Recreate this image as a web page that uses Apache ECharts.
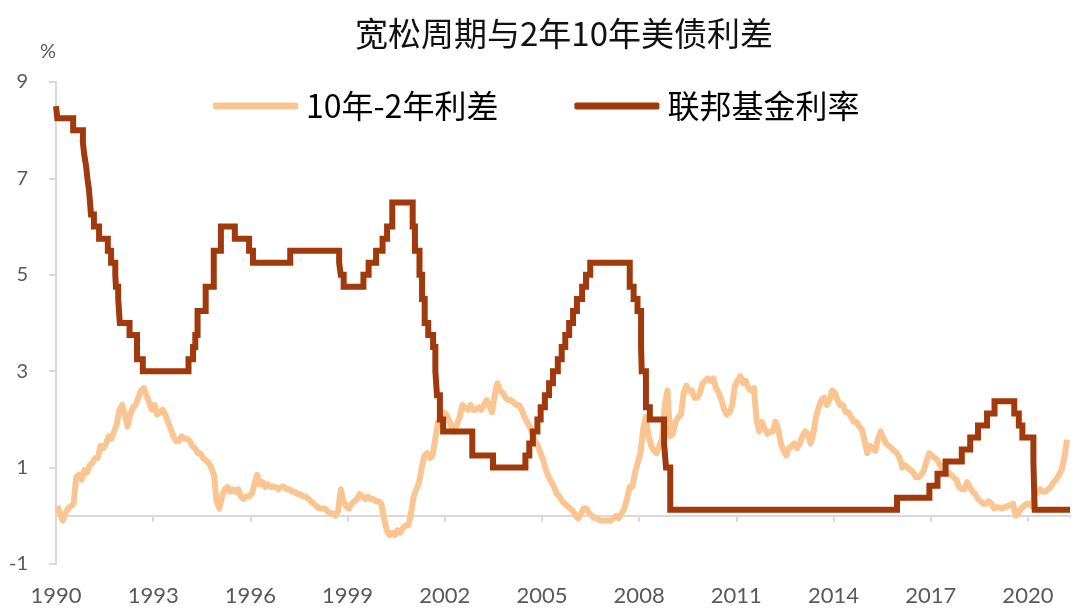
<!DOCTYPE html>
<html><head><meta charset="utf-8">
<script src="https://cdn.jsdelivr.net/npm/echarts@6/dist/echarts.min.js"></script>
<style>html,body{margin:0;padding:0;background:#fff}#c{width:1080px;height:614px}</style>
</head><body><div id="c"></div>
<script>
const chartTitle = '宽松周期与2年10年美债利差';
const seriesNames = ['10年-2年利差', '联邦基金利率'];
const yearTicks = [1990, 1993, 1996, 1999, 2002, 2005, 2008, 2011, 2014, 2017, 2020];

// 10Y-2Y spread, monthly from Jan 1990
const spreadStartYear = 1990;
const spreadMonthly = [
  0.2, 0.05, -0.1, 0.05, 0.15, 0.2, 0.25, 0.8, 0.85, 0.75, 0.95, 0.9,
  1.05, 1.1, 1.2, 1.2, 1.45, 1.4, 1.5, 1.65, 1.6, 1.75, 1.9, 2.2,
  2.3, 2.1, 1.85, 2.1, 2.25, 2.3, 2.45, 2.6, 2.65, 2.5, 2.35, 2.2,
  2.3, 2.1, 2.15, 2.2, 2.1, 1.95, 1.8, 1.65, 1.55, 1.55, 1.65, 1.6,
  1.6, 1.55, 1.45, 1.4, 1.3, 1.3, 1.2, 1.15, 1.1, 1.0, 0.85, 0.3,
  0.15, 0.4, 0.55, 0.6, 0.5, 0.55, 0.5, 0.55, 0.4, 0.35, 0.4, 0.4,
  0.45, 0.65, 0.85, 0.65, 0.7, 0.6, 0.65, 0.6, 0.6, 0.6, 0.55, 0.6,
  0.6, 0.55, 0.55, 0.5, 0.5, 0.45, 0.45, 0.4, 0.4, 0.35, 0.3, 0.25,
  0.2, 0.15, 0.15, 0.15, 0.1, 0.05, 0.05, 0.0, 0.1, 0.55, 0.3, 0.2,
  0.15, 0.25, 0.3, 0.35, 0.45, 0.4, 0.35, 0.4, 0.35, 0.35, 0.3, 0.3,
  0.25, -0.05, -0.3, -0.4, -0.35, -0.4, -0.3, -0.35, -0.25, -0.2, -0.2, 0.05,
  0.4, 0.55, 0.7, 1.0, 1.25, 1.3, 1.2, 1.25, 1.6, 1.95, 1.9, 2.15,
  2.1, 2.0, 1.85, 1.75, 1.9, 2.05, 2.3, 2.25, 2.2, 2.3, 2.2, 2.2,
  2.25, 2.2, 2.3, 2.4, 2.3, 2.15, 2.5, 2.75, 2.6, 2.55, 2.45, 2.4,
  2.4, 2.35, 2.3, 2.3, 2.2, 2.05, 1.95, 1.85, 1.7, 1.55, 1.45, 1.3,
  1.15, 0.95, 0.8, 0.7, 0.6, 0.45, 0.4, 0.3, 0.25, 0.2, 0.15, 0.1,
  0.0, -0.05, 0.05, 0.15, 0.15, 0.05, 0.0, -0.05, -0.05, -0.1, -0.1, -0.1,
  -0.1, -0.1, -0.05, 0.0, -0.05, 0.05, 0.15, 0.35, 0.6, 0.6, 0.9, 1.1,
  1.3, 1.8, 2.05, 1.65, 1.45, 1.35, 1.3, 1.45, 1.6, 2.3, 2.6, 1.65,
  1.7, 1.95, 2.05, 2.1, 2.55, 2.7, 2.6, 2.6, 2.45, 2.45, 2.55, 2.75,
  2.8, 2.85, 2.8, 2.85, 2.65, 2.55, 2.4, 2.2, 2.1, 2.15, 2.3, 2.7,
  2.8, 2.9, 2.75, 2.8, 2.65, 2.6, 2.65, 2.0, 1.75, 1.95, 1.8, 1.7,
  1.75, 1.75, 1.95, 1.8, 1.5, 1.35, 1.25, 1.4, 1.45, 1.5, 1.4, 1.5,
  1.65, 1.75, 1.7, 1.5, 1.7, 2.05, 2.25, 2.4, 2.45, 2.3, 2.4, 2.6,
  2.55, 2.4, 2.3, 2.3, 2.15, 2.15, 2.05, 1.95, 1.95, 1.85, 1.8, 1.55,
  1.3, 1.45, 1.4, 1.35, 1.6, 1.75, 1.6, 1.5, 1.45, 1.4, 1.35, 1.3,
  1.2, 1.0, 1.05, 1.0, 0.95, 0.9, 0.8, 0.8, 0.85, 0.95, 1.15, 1.3,
  1.25, 1.2, 1.15, 1.05, 0.95, 0.9, 0.9, 0.85, 0.8, 0.75, 0.6, 0.55,
  0.55, 0.7, 0.6, 0.5, 0.45, 0.35, 0.3, 0.25, 0.25, 0.3, 0.25, 0.15,
  0.18, 0.17, 0.15, 0.18, 0.2, 0.22, 0.25, 0.0, 0.05, 0.15, 0.2, 0.25,
  0.25, 0.2, 0.45, 0.5, 0.55, 0.5, 0.5, 0.55, 0.6, 0.7, 0.75, 0.85,
  0.95, 1.2, 1.58
];

// Fed funds rate: date (decimal year) at which each level starts
const fedDates = [
  1990.0, 1990.04, 1990.53, 1990.83, 1990.87, 1990.93, 1990.97, 1991.02, 1991.08, 1991.17,
  1991.33, 1991.6, 1991.7, 1991.83, 1991.85, 1991.92, 1991.97, 1992.27, 1992.5, 1992.68,
  1994.09, 1994.23, 1994.3, 1994.37, 1994.62, 1994.87, 1995.09, 1995.52, 1995.96, 1996.08,
  1997.23, 1998.74, 1998.79, 1998.88, 1999.49, 1999.65, 1999.88, 2000.08, 2000.22, 2000.38,
  2001.01, 2001.08, 2001.22, 2001.3, 2001.38, 2001.49, 2001.64, 2001.71, 2001.76, 2001.85,
  2001.95, 2002.85, 2003.49, 2004.49, 2004.61, 2004.72, 2004.86, 2004.96, 2005.09, 2005.22,
  2005.34, 2005.49, 2005.61, 2005.72, 2005.84, 2005.96, 2006.08, 2006.24, 2006.36, 2006.49,
  2007.71, 2007.83, 2007.95, 2008.06, 2008.08, 2008.21, 2008.33, 2008.77, 2008.83, 2008.96,
  2015.96, 2016.96, 2017.21, 2017.46, 2017.96, 2018.22, 2018.46, 2018.74, 2018.97, 2019.58,
  2019.72, 2019.83, 2020.17, 2020.21, 2021.3
];
const fedRates = [
  8.5, 8.25, 8.0, 7.75, 7.5, 7.25, 7.0, 6.75, 6.25, 6.0,
  5.75, 5.5, 5.25, 5.0, 4.75, 4.5, 4.0, 3.75, 3.25, 3.0,
  3.25, 3.5, 3.75, 4.25, 4.75, 5.5, 6.0, 5.75, 5.5, 5.25,
  5.5, 5.25, 5.0, 4.75, 5.0, 5.25, 5.5, 5.75, 6.0, 6.5,
  6.0, 5.5, 5.0, 4.5, 4.0, 3.75, 3.5, 3.0, 2.5, 2.0,
  1.75, 1.25, 1.0, 1.25, 1.5, 1.75, 2.0, 2.25, 2.5, 2.75,
  3.0, 3.25, 3.5, 3.75, 4.0, 4.25, 4.5, 4.75, 5.0, 5.25,
  4.75, 4.5, 4.25, 3.5, 3.0, 2.25, 2.0, 1.5, 1.0, 0.125,
  0.375, 0.625, 0.875, 1.125, 1.375, 1.625, 1.875, 2.125, 2.375, 2.125,
  1.875, 1.625, 1.125, 0.125, 0.125
];

const spreadColor = '#FAC591';
const fedColor = '#A0390B';

const spreadData = spreadMonthly.map((v, i) => [spreadStartYear + (i + 0.5) / 12, v]);
const fedData = fedDates.map((d, i) => [d, fedRates[i]]);

const chart = echarts.init(document.getElementById('c'), null, {renderer: 'canvas'});
chart.setOption({
  animation: false,
  backgroundColor: '#fff',
  title: {
    text: chartTitle, left: 355, top: 16, padding: 0,
    textStyle: {fontFamily: 'Noto Sans CJK SC', fontSize: 33, fontWeight: 'normal', color: '#111', lineHeight: 34}
  },
  legend: {
    left: 213, top: 88, padding: 0, itemWidth: 85, itemHeight: 7, itemGap: 76, icon: 'roundRect',
    data: [{name: seriesNames[0]}, {name: seriesNames[1]}],
    textStyle: {fontFamily: 'Noto Sans CJK SC', fontSize: 32, color: '#000', lineHeight: 36, padding: [0, 0, 0, 3]}
  },
  grid: {left: 56, right: 10, top: 82, bottom: 50, containLabel: false, outerBoundsMode: 'none'},
  xAxis: [
    {
      type: 'value', min: 1990, max: 2021.3, position: 'bottom',
      axisLine: {show: false, onZero: false},
      axisTick: {show: false},
      axisLabel: {customValues: yearTicks, margin: 21, fontSize: 22, color: '#595959', fontFamily: 'Lato', formatter: v => String(v)},
      splitLine: {show: false}
    },
    {
      type: 'value', min: 1990, max: 2021.3, position: 'bottom',
      axisLine: {show: true, onZero: true, lineStyle: {color: '#D9D9D9', width: 2}},
      axisTick: {show: true, customValues: yearTicks, length: 6, lineStyle: {color: '#D9D9D9', width: 2}},
      axisLabel: {show: false},
      splitLine: {show: false}
    }
  ],
  yAxis: {
    type: 'value', min: -1, max: 9, interval: 2,
    name: '%', nameLocation: 'end', nameGap: 20,
    nameTextStyle: {fontSize: 20, color: '#595959', fontFamily: 'Lato', align: 'right'},
    axisLine: {show: true, lineStyle: {color: '#D9D9D9', width: 2}},
    axisTick: {show: true, length: 7, lineStyle: {color: '#D9D9D9', width: 2}},
    axisLabel: {margin: 28, fontSize: 20, color: '#595959', fontFamily: 'Lato'},
    splitLine: {show: false}
  },
  series: [
    {
      name: seriesNames[0], type: 'line', xAxisIndex: 0, data: spreadData, symbol: 'none', showSymbol: false,
      lineStyle: {width: 6, color: spreadColor, join: 'round'}, itemStyle: {color: spreadColor}, z: 2
    },
    {
      name: seriesNames[1], type: 'line', xAxisIndex: 0, step: 'end', data: fedData, symbol: 'none', showSymbol: false,
      lineStyle: {width: 6, color: fedColor, join: 'miter'}, itemStyle: {color: fedColor}, z: 3
    }
  ]
});
</script>
</body></html>
